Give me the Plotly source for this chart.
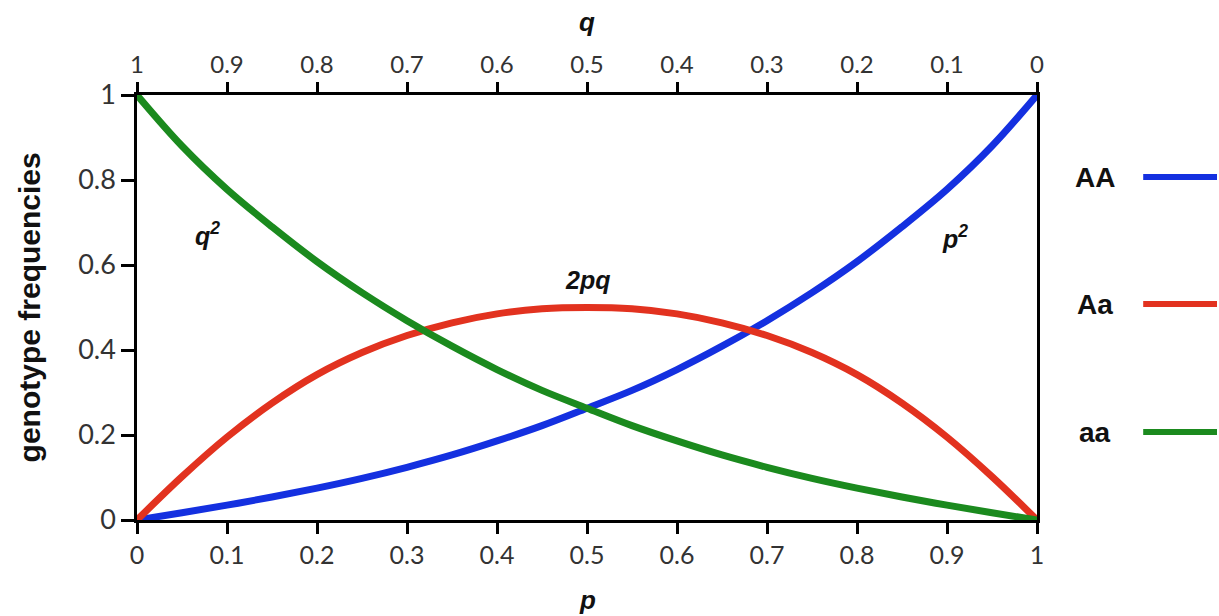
import plotly.graph_objects as go

# allele frequency p (bottom axis) and q (top axis)
p_vals = [0.0, 0.05, 0.10, 0.15, 0.20, 0.25, 0.30, 0.35, 0.40, 0.45, 0.50,
          0.55, 0.60, 0.65, 0.70, 0.75, 0.80, 0.85, 0.90, 0.95, 1.0]
# genotype frequencies
AA_vals = [0.0, 0.017, 0.035, 0.054, 0.075, 0.098, 0.124, 0.153, 0.186, 0.222, 0.263,
           0.305, 0.354, 0.409, 0.469, 0.535, 0.608, 0.690, 0.778, 0.880, 1.0]
Aa_vals = [0.0, 0.102, 0.195, 0.275, 0.342, 0.394, 0.434, 0.464, 0.485, 0.497, 0.500,
           0.497, 0.485, 0.464, 0.434, 0.394, 0.342, 0.275, 0.195, 0.102, 0.0]
aa_vals = [1.0, 0.880, 0.778, 0.690, 0.608, 0.535, 0.469, 0.409, 0.354, 0.305, 0.263,
           0.222, 0.186, 0.153, 0.124, 0.098, 0.075, 0.054, 0.035, 0.017, 0.0]

x_ticks = [0, 0.1, 0.2, 0.3, 0.4, 0.5, 0.6, 0.7, 0.8, 0.9, 1]
x_ticklabels = ["0", "0.1", "0.2", "0.3", "0.4", "0.5", "0.6", "0.7", "0.8", "0.9", "1"]
q_ticks = [1, 0.9, 0.8, 0.7, 0.6, 0.5, 0.4, 0.3, 0.2, 0.1, 0]
q_ticklabels = ["1", "0.9", "0.8", "0.7", "0.6", "0.5", "0.4", "0.3", "0.2", "0.1", "0"]
y_ticks = [0, 0.2, 0.4, 0.6, 0.8, 1]
y_ticklabels = ["0", "0.2", "0.4", "0.6", "0.8", "1"]

series_names = ["AA", "Aa", "aa"]
series_colors = ["#1430e0", "#e2321f", "#1b8a1e"]
series_labels = ["p<sup>2</sup>", "2pq", "q<sup>2</sup>"]
label_pos = [(0.909, 0.665), (0.5, 0.565), (0.078, 0.672)]
legend_y = [0.807, 0.508, 0.207]

BOLD = "Liberation Sans"
TICKF = "Lato"
TICKC = "#333"

fig = go.Figure()
for name, vals, col in zip(series_names, [AA_vals, Aa_vals, aa_vals], series_colors):
    fig.add_trace(go.Scatter(x=p_vals, y=vals, mode="lines", name=name,
                             line=dict(color=col, width=7, shape="spline", smoothing=1.0),
                             showlegend=False, hoverinfo="skip"))
# invisible trace to anchor the top (q) axis
fig.add_trace(go.Scatter(x=[q_ticks[0], q_ticks[-1]], y=[None, None], xaxis="x2",
                         mode="lines", showlegend=False, hoverinfo="skip"))

for txt, (xx, yy) in zip(series_labels, label_pos):
    fig.add_annotation(x=xx, y=yy, xref="x", yref="y", showarrow=False,
                       text="<b><i>" + txt + "</i></b>",
                       xanchor="center", yanchor="middle",
                       font=dict(family=BOLD, size=25, color="#111"))

# legend drawn as text + line segment to the right of the plot
for name, col, ly in zip(series_names, series_colors, legend_y):
    fig.add_annotation(x=1.064, y=ly, xref="paper", yref="paper", showarrow=False,
                       text="<b>" + name + "</b>", xanchor="center", yanchor="middle",
                       font=dict(family=BOLD, size=28, color="#111"))
    fig.add_shape(type="line", xref="paper", yref="paper", x0=1.118, x1=1.2,
                  y0=ly, y1=ly, line=dict(color=col, width=6))

# axis titles
fig.add_annotation(x=-0.119, y=0.5, xref="paper", yref="paper", showarrow=False,
                   text="<b>genotype frequencies</b>", textangle=-90,
                   xanchor="center", yanchor="middle",
                   font=dict(family=BOLD, size=30, color="#111"))
fig.add_annotation(x=0.5, y=-0.188, xref="paper", yref="paper", showarrow=False,
                   text="<b><i>p</i></b>", xanchor="center", yanchor="middle",
                   font=dict(family=BOLD, size=26, color="#111"))
fig.add_annotation(x=0.5, y=1.172, xref="paper", yref="paper", showarrow=False,
                   text="<b><i>q</i></b>", xanchor="center", yanchor="middle",
                   font=dict(family=BOLD, size=26, color="#111"))

fig.update_layout(
    width=1219, height=616,
    margin=dict(l=137, r=182, t=95, b=96, pad=0),
    paper_bgcolor="white", plot_bgcolor="white",
    xaxis=dict(range=[0, 1], tickvals=x_ticks, ticktext=x_ticklabels, automargin=False,
               showgrid=False, zeroline=False, showline=True, linecolor="black",
               linewidth=2.5, ticks="outside", ticklen=11, tickwidth=2.5, tickcolor="black",
               tickfont=dict(family=TICKF, size=25, color=TICKC)),
    xaxis2=dict(range=[1, 0], overlaying="x", side="top", anchor="y", automargin=False,
                tickvals=q_ticks, ticktext=q_ticklabels,
                showgrid=False, zeroline=False, showline=True, linecolor="black",
                linewidth=2.5, ticks="outside", ticklen=10, tickwidth=2.5, tickcolor="black",
                tickfont=dict(family=TICKF, size=24, color=TICKC)),
    yaxis=dict(range=[0, 1], tickvals=y_ticks, ticktext=y_ticklabels, automargin=False,
               showgrid=False, zeroline=False, showline=True, linecolor="black",
               linewidth=2.5, mirror=True, ticks="outside", ticklen=13, tickwidth=2.5,
               tickcolor="black", tickfont=dict(family=TICKF, size=27, color=TICKC)),
)

fig.write_html("out.html", config={"displayModeBar": False},
               post_script="document.body.style.margin='0';document.body.style.overflow='hidden';")
